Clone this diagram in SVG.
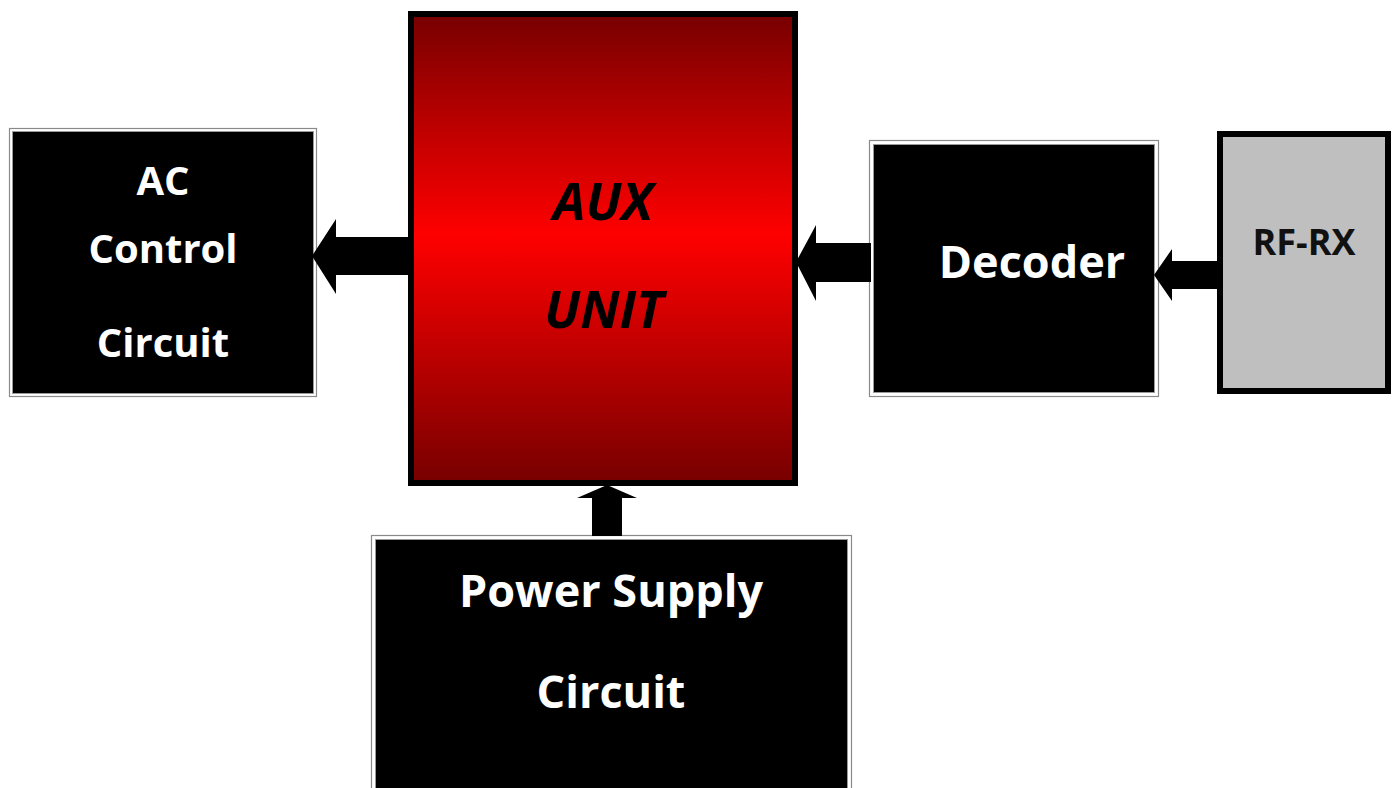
<svg xmlns="http://www.w3.org/2000/svg" width="1393" height="788" viewBox="0 0 1393 788">
<defs>
<linearGradient id="redg" x1="0" y1="0" x2="0" y2="1">
<stop offset="0" stop-color="#770000"/>
<stop offset="0.47" stop-color="#ff0000"/>
<stop offset="1" stop-color="#770000"/>
</linearGradient>
</defs>
<style>
.outer{fill:#ffffff;stroke:#8a8a8a;stroke-width:1.2}
.inner{fill:#000000;stroke:#9a9a9a;stroke-width:1}
.wt{fill:#ffffff;font-family:"Open Sans","Noto Sans",sans-serif;font-weight:bold;text-anchor:middle}
.it{fill:#000000;font-family:"Open Sans","Noto Sans",sans-serif;font-weight:bold;font-style:italic;text-anchor:middle;font-size:52px}
.arrow{fill:#000000}
</style>
<rect width="1393" height="788" fill="#ffffff"/>
<g id="aux">
<rect x="411" y="14" width="384" height="469" fill="url(#redg)" stroke="#000" stroke-width="6"/>
<text class="it" x="603" y="220">AUX</text>
<text class="it" x="604" y="328">UNIT</text>
</g>
<g id="ac-control">
<rect class="outer" x="9.5" y="128.5" width="307" height="268"/>
<rect class="inner" x="12.5" y="131.5" width="301" height="262"/>
<text class="wt" x="163" y="195" font-size="40">AC</text>
<text class="wt" x="163" y="263" font-size="40">Control</text>
<text class="wt" x="163" y="357" font-size="40">Circuit</text>
</g>
<g id="decoder">
<rect class="outer" x="869.5" y="140.5" width="289" height="256"/>
<rect class="inner" x="873.5" y="144.5" width="281" height="248"/>
<text class="wt" x="1032" y="278" font-size="45">Decoder</text>
</g>
<g id="rf-rx">
<rect x="1220" y="134" width="168" height="257" fill="#bfbfbf" stroke="#000" stroke-width="6"/>
<text x="1304" y="255" font-family="'Open Sans','Noto Sans',sans-serif" font-weight="bold" font-size="36" fill="#111" text-anchor="middle">RF-RX</text>
</g>
<g id="power-supply">
<rect class="outer" x="371.5" y="535.5" width="480" height="260"/>
<rect class="inner" x="375.5" y="539.5" width="472" height="260"/>
<text class="wt" x="611" y="607" font-size="45">Power Supply</text>
<text class="wt" x="611" y="708" font-size="45">Circuit</text>
</g>
<g id="connectors">
<polygon class="arrow" points="410,237 336,237 336,219 312,256 336,294 336,275 410,275"/>
<polygon class="arrow" points="871,243 816,243 816,225 796,262 816,301 816,282 871,282"/>
<polygon class="arrow" points="1218,261 1172,261 1172,249 1154,275 1172,301 1172,289 1218,289"/>
<polygon class="arrow" points="592,536 592,498 577,498 607,485 637,498 622,498 622,536"/>
</g>
</svg>
